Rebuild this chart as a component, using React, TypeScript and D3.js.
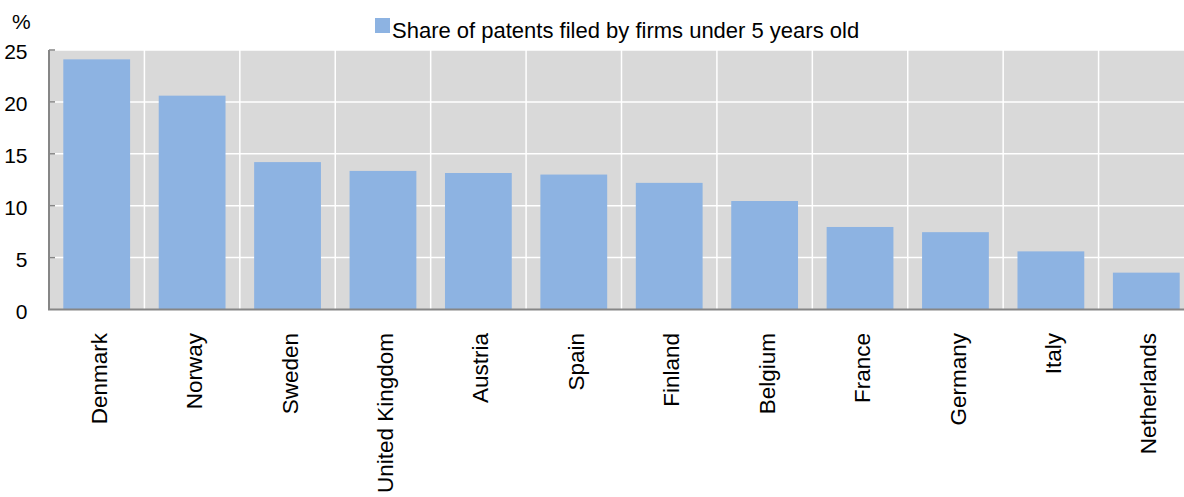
import React, { useEffect, useRef } from 'react';
import * as d3 from 'd3';

// Categories and values
const countries: string[] = [
  'Denmark', 'Norway', 'Sweden', 'United Kingdom', 'Austria', 'Spain',
  'Finland', 'Belgium', 'France', 'Germany', 'Italy', 'Netherlands',
];
const shares: number[] = [24.1, 20.6, 14.2, 13.35, 13.15, 13.0, 12.2, 10.45, 7.95, 7.45, 5.6, 3.55];
const yTicks: number[] = [0, 5, 10, 15, 20, 25];
const seriesName = 'Share of patents filed by firms under 5 years old';

const App = () => {
  const svgRef = useRef<SVGSVGElement | null>(null);

  useEffect(() => {
    if (!svgRef.current) return;
    const width = 1184;
    const height = 497;
    const svg = d3.select(svgRef.current);
    svg.attr('width', width).attr('height', height);
    svg.selectAll('*').remove();

    const font = '"Liberation Sans", Arial, sans-serif';
    const barColor = '#8db3e2';

    // plot box
    const left = 49;
    const top = 50;
    const bottom = 309.5;
    const right = 1194;

    const x = d3.scaleBand<string>()
      .domain(countries)
      .range([left, right])
      .paddingInner(0.3)
      .paddingOuter(0.15);

    const y = d3.scaleLinear().domain([0, 25]).range([bottom, top]);

    // background
    svg.append('rect')
      .attr('x', left)
      .attr('y', top)
      .attr('width', right - left)
      .attr('height', bottom - top)
      .attr('fill', '#d9d9d9');

    // horizontal gridlines
    yTicks.filter(t => t > 0).forEach(t => {
      svg.append('line')
        .attr('x1', left).attr('x2', right)
        .attr('y1', y(t)).attr('y2', y(t))
        .attr('stroke', '#ffffff').attr('stroke-width', 1.5);
    });

    // vertical gridlines at category boundaries
    const step = x.step();
    countries.slice(1).forEach(c => {
      const gx = (x(c) as number) - step * 0.15;
      svg.append('line')
        .attr('x1', gx).attr('x2', gx)
        .attr('y1', top).attr('y2', bottom)
        .attr('stroke', '#ffffff').attr('stroke-width', 1.5);
    });

    // bars
    svg.selectAll('rect.bar')
      .data(countries)
      .enter().append('rect')
      .attr('class', 'bar')
      .attr('x', d => x(d) as number)
      .attr('width', x.bandwidth())
      .attr('y', (d, i) => y(shares[i]))
      .attr('height', (d, i) => bottom - y(shares[i]))
      .attr('fill', barColor);

    // axes lines
    svg.append('line')
      .attr('x1', left).attr('x2', left)
      .attr('y1', top).attr('y2', bottom)
      .attr('stroke', '#868686').attr('stroke-width', 2);
    svg.append('line')
      .attr('x1', left - 1).attr('x2', right)
      .attr('y1', bottom).attr('y2', bottom)
      .attr('stroke', '#868686').attr('stroke-width', 2);

    // y ticks and labels
    yTicks.forEach(t => {
      if (t > 0) {
        svg.append('line')
          .attr('x1', left).attr('x2', left + 6)
          .attr('y1', y(t)).attr('y2', y(t))
          .attr('stroke', '#868686').attr('stroke-width', 1.5);
      }
      svg.append('text')
        .attr('x', 27.5)
        .attr('y', y(t) + 2)
        .attr('dy', '0.35em')
        .attr('text-anchor', 'end')
        .attr('fill', '#000')
        .style('font-size', '21px')
        .style('font-family', font)
        .text(t);
    });

    // unit label
    svg.append('text')
      .attr('x', 12)
      .attr('y', 29)
      .attr('fill', '#000')
      .style('font-size', '21px')
      .style('font-family', font)
      .text('%');

    // category labels (rotated)
    countries.forEach(c => {
      const cx = (x(c) as number) + x.bandwidth() / 2 + 2;
      svg.append('text')
        .attr('transform', `translate(${cx},333) rotate(-90)`)
        .attr('dy', '0.36em')
        .attr('text-anchor', 'end')
        .attr('fill', '#000')
        .style('font-size', '22.5px')
        .style('font-family', font)
        .text(c);
    });

    // legend
    svg.append('rect')
      .attr('x', 375)
      .attr('y', 18)
      .attr('width', 15)
      .attr('height', 15)
      .attr('fill', barColor);
    svg.append('text')
      .attr('x', 392)
      .attr('y', 38)
      .attr('fill', '#000')
      .style('font-size', '22px')
      .style('font-family', font)
      .text(seriesName);
  }, []);

  return (
    <div style={{ position: 'absolute', left: 0, top: 0, width: 1184, height: 497, overflow: 'hidden' }}>
      <svg ref={svgRef} style={{ display: 'block' }}></svg>
    </div>
  );
};

export default App;
